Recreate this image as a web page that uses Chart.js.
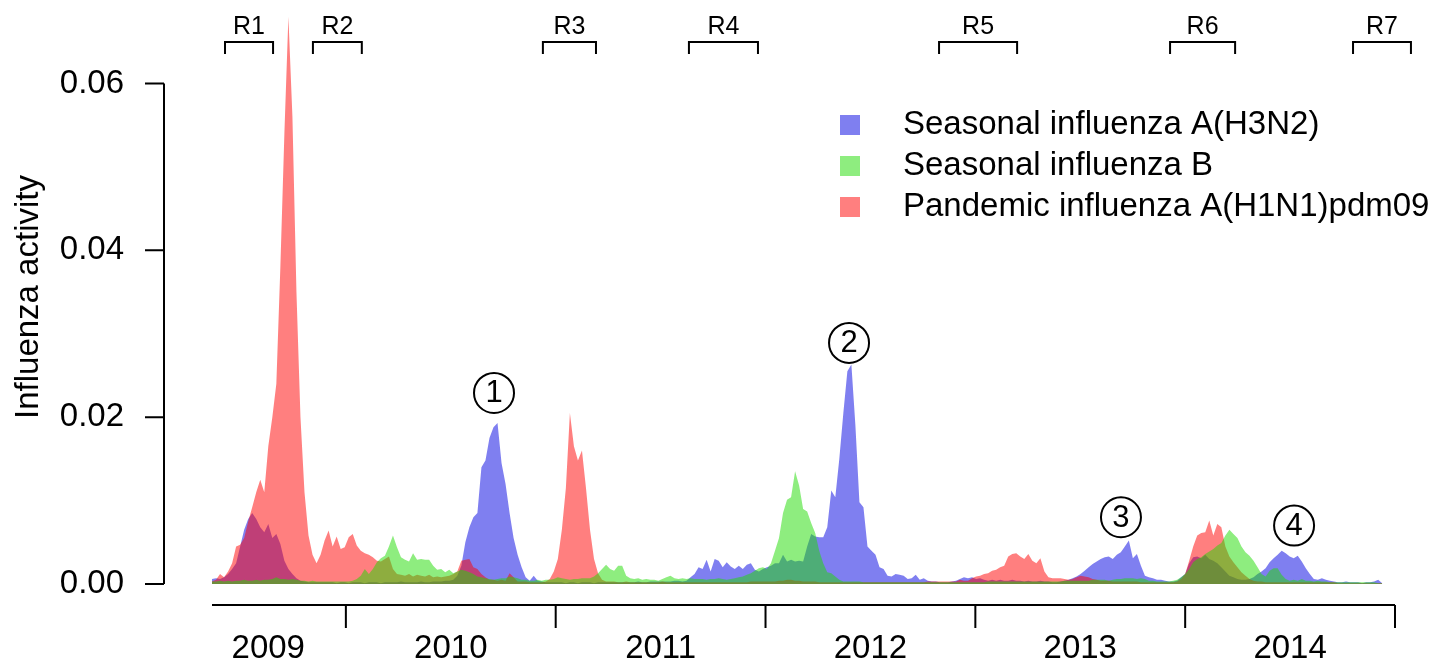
<!DOCTYPE html>
<html>
<head>
<meta charset="utf-8">
<script src="https://cdn.jsdelivr.net/npm/chart.js@4/dist/chart.umd.min.js"></script>
<style>
  html, body { margin: 0; padding: 0; background: #fff; }
  #wrap { width: 1451px; height: 662px; }
</style>
</head>
<body>
<div id="wrap"><canvas id="fluChart" width="1451" height="662"></canvas></div>
<script>
// Weekly series, first week in mid-May 2009 (decimal years on the x axis)
const firstWeek = 2009.362;
const weekStep = 7 / 365.25;

const h3n2 = [
  0.0006, 0.0007, 0.0006, 0.0008, 0.0012, 0.0018, 0.0025, 0.0045, 0.0065, 0.0078,
  0.0085, 0.0078, 0.0068, 0.0062, 0.0072, 0.0055, 0.006, 0.0048, 0.0028, 0.0018,
  0.0012, 0.0007, 0.0004, 0.0003, 0.0002, 0.0002, 0.0002, 0.0002, 0.0002, 0.0002,
  0.0002, 0.0001, 0.0002, 0.0002, 0.0001, 0.0002, 0.0002, 0.0002, 0.0001, 0.0002,
  0.0002, 0.0002, 0.0001, 0.0002, 0.0002, 0.0002, 0.0002, 0.0003, 0.0002, 0.0002,
  0.0002, 0.0002, 0.0003, 0.0002, 0.0002, 0.0003, 0.0003, 0.0003, 0.0004, 0.0004,
  0.0005, 0.001, 0.0022, 0.005, 0.0068, 0.008, 0.0085, 0.014, 0.0148, 0.0175,
  0.0188, 0.0193, 0.0145, 0.012, 0.0085, 0.0055, 0.0035, 0.002, 0.0008, 0.0004,
  0.001, 0.0004, 0.0003, 0.0002, 0.0002, 0.0002, 0.0002, 0.0002, 0.0001, 0.0002,
  0.0002, 0.0001, 0.0002, 0.0002, 0.0002, 0.0001, 0.0002, 0.0002, 0.0002, 0.0002,
  0.0002, 0.0002, 0.0002, 0.0002, 0.0002, 0.0002, 0.0003, 0.0002, 0.0002, 0.0003,
  0.0003, 0.0003, 0.0003, 0.0003, 0.0003, 0.0004, 0.0004, 0.0003, 0.0004, 0.0008,
  0.0012, 0.002, 0.0018, 0.0029, 0.0015, 0.003, 0.0028, 0.002, 0.0026, 0.0021,
  0.0018, 0.0022, 0.0018, 0.0023, 0.0025, 0.0017, 0.0015, 0.0018, 0.002, 0.0022,
  0.0025, 0.0025, 0.0035, 0.0027, 0.0029, 0.0027, 0.0028, 0.0027, 0.0045, 0.006,
  0.0057, 0.0056, 0.0056, 0.0068, 0.0112, 0.0104, 0.015, 0.0205, 0.0255, 0.0263,
  0.019, 0.0098, 0.0092, 0.0045, 0.004, 0.0035, 0.002, 0.0018, 0.001, 0.0009,
  0.0012, 0.0011, 0.001, 0.0006, 0.0007, 0.0011, 0.0005, 0.0007, 0.0004, 0.0003,
  0.0003, 0.0002, 0.0002, 0.0002, 0.0003, 0.0004, 0.0006, 0.0008, 0.0007, 0.0008,
  0.0006, 0.0007, 0.0005, 0.0004, 0.0005, 0.0004, 0.0005, 0.0004, 0.0004, 0.0005,
  0.0004, 0.0004, 0.0003, 0.0004, 0.0003, 0.0003, 0.0004, 0.0003, 0.0003, 0.0002,
  0.0002, 0.0003, 0.0004, 0.0005, 0.0007, 0.0009, 0.0012, 0.0016, 0.002, 0.0024,
  0.0027, 0.003, 0.0032, 0.0033, 0.003, 0.0035, 0.0038, 0.0045, 0.0052, 0.0031,
  0.0036, 0.0022, 0.001, 0.0008, 0.0007, 0.0005, 0.0005, 0.0004, 0.0003, 0.0003,
  0.0004, 0.0008, 0.0012, 0.0025, 0.0032, 0.0033, 0.0031, 0.0035, 0.003, 0.0028,
  0.0025, 0.002, 0.0015, 0.001, 0.0008, 0.0006, 0.0005, 0.0005, 0.0006, 0.0008,
  0.0012, 0.0015, 0.0019, 0.0026, 0.0031, 0.0035, 0.004, 0.0037, 0.0033, 0.0031,
  0.0034, 0.0027, 0.0019, 0.0012, 0.0006, 0.0005, 0.0007, 0.0005, 0.0004, 0.0003,
  0.0002, 0.0002, 0.0003, 0.0002, 0.0002, 0.0002, 0.0001, 0.0002, 0.0002, 0.0003,
  0.0005, 0.0001
];

const fluB = [
  0.0003, 0.0003, 0.0004, 0.0003, 0.0004, 0.0003, 0.0004, 0.0004, 0.0005, 0.0004,
  0.0004, 0.0005, 0.0004, 0.0005, 0.0005, 0.0006, 0.0008, 0.0006, 0.0006, 0.0005,
  0.0006, 0.0005, 0.0004, 0.0004, 0.0003, 0.0004, 0.0003, 0.0003, 0.0003, 0.0003,
  0.0003, 0.0003, 0.0003, 0.0003, 0.0003, 0.0004, 0.0006, 0.001, 0.0018, 0.0012,
  0.0018, 0.0026, 0.0031, 0.0034, 0.0045, 0.0058, 0.0044, 0.0032, 0.0029, 0.0027,
  0.0037, 0.0029, 0.003, 0.0029, 0.0029, 0.0022, 0.0017, 0.0018, 0.0014, 0.0017,
  0.0013, 0.0015, 0.0017, 0.0016, 0.0014, 0.0012, 0.0009, 0.0008, 0.0007, 0.0006,
  0.0005, 0.0006, 0.0007, 0.0007, 0.0009, 0.0008, 0.0007, 0.0005, 0.0005, 0.0004,
  0.0004, 0.0005, 0.0004, 0.0005, 0.0005, 0.0006, 0.0008, 0.0007, 0.0006, 0.0005,
  0.0006, 0.0006, 0.0007, 0.0007, 0.0007, 0.0009, 0.0013, 0.0018, 0.0023, 0.0018,
  0.0016, 0.0022, 0.0022, 0.001, 0.0007, 0.0006, 0.0007, 0.0005, 0.0006, 0.0005,
  0.0005, 0.0004, 0.0006, 0.0008, 0.001, 0.0007, 0.0006, 0.0007, 0.0006, 0.0007,
  0.0006, 0.0006, 0.0006, 0.0005, 0.0006, 0.0006, 0.0007, 0.0006, 0.0005, 0.0006,
  0.0007, 0.0008, 0.0009, 0.0011, 0.0013, 0.0016, 0.0019, 0.002, 0.0018, 0.0025,
  0.004, 0.0055, 0.0085, 0.0101, 0.0104, 0.0135, 0.0118, 0.009, 0.0087, 0.0073,
  0.0061, 0.004, 0.0025, 0.0014, 0.0013, 0.0009, 0.0005, 0.0003, 0.0003, 0.0003,
  0.0003, 0.0003, 0.0002, 0.0002, 0.0002, 0.0002, 0.0002, 0.0002, 0.0002, 0.0002,
  0.0002, 0.0002, 0.0002, 0.0002, 0.0002, 0.0002, 0.0002, 0.0002, 0.0002, 0.0002,
  0.0002, 0.0002, 0.0002, 0.0002, 0.0002, 0.0002, 0.0002, 0.0002, 0.0002, 0.0002,
  0.0002, 0.0002, 0.0002, 0.0003, 0.0003, 0.0003, 0.0003, 0.0003, 0.0003, 0.0003,
  0.0003, 0.0003, 0.0003, 0.0003, 0.0003, 0.0003, 0.0003, 0.0003, 0.0003, 0.0003,
  0.0003, 0.0003, 0.0004, 0.0004, 0.0004, 0.0004, 0.0004, 0.0004, 0.0004, 0.0005,
  0.0005, 0.0005, 0.0005, 0.0004, 0.0005, 0.0006, 0.0006, 0.0007, 0.0007, 0.0007,
  0.0006, 0.0007, 0.0006, 0.0004, 0.0004, 0.0003, 0.0003, 0.0003, 0.0003, 0.0004,
  0.0005, 0.0008, 0.0012, 0.0018, 0.0026, 0.003, 0.0032, 0.0036, 0.0039, 0.0042,
  0.0046, 0.0049, 0.0058, 0.0065, 0.006, 0.0055, 0.0045, 0.0038, 0.0034, 0.0028,
  0.002, 0.0012, 0.0009, 0.0016, 0.0019, 0.0019, 0.0011, 0.0006, 0.0004, 0.0005,
  0.0004, 0.0006, 0.0004, 0.0004, 0.0003, 0.0004, 0.0003, 0.0003, 0.0002, 0.0002,
  0.0002, 0.0002, 0.0002, 0.0002, 0.0002, 0.0002, 0.0002, 0.0002, 0.0002, 0.0002,
  0.0001, 0.0001
];

const h1n1 = [
  0.0003, 0.0005, 0.0012, 0.0008, 0.0015, 0.0025, 0.0045, 0.0047, 0.0055, 0.0075,
  0.0092, 0.011, 0.0125, 0.011, 0.0165, 0.02, 0.024, 0.038, 0.054, 0.068,
  0.056, 0.035, 0.02, 0.011, 0.0058, 0.0035, 0.0025, 0.0035, 0.0052, 0.0064,
  0.0045, 0.0057, 0.0042, 0.0044, 0.0056, 0.006, 0.0046, 0.004, 0.0037, 0.0035,
  0.0032, 0.0028, 0.0027, 0.003, 0.0033, 0.0018, 0.0012, 0.0011, 0.001, 0.0012,
  0.0009, 0.0011, 0.001, 0.0009, 0.0011, 0.0008, 0.0009, 0.0008, 0.0009, 0.001,
  0.0012, 0.0015, 0.0028, 0.0029, 0.003, 0.002, 0.0018, 0.0012, 0.0008, 0.0005,
  0.0005, 0.0004, 0.0005, 0.0004, 0.0013, 0.0008, 0.0003, 0.0003, 0.0003, 0.0002,
  0.0002, 0.0002, 0.0002, 0.0003, 0.0006, 0.0015, 0.003, 0.0065, 0.0115, 0.0205,
  0.0165, 0.0148, 0.016, 0.0115, 0.0065, 0.003, 0.0013, 0.0005, 0.0003, 0.0003,
  0.0003, 0.0002, 0.0002, 0.0003, 0.0002, 0.0002, 0.0002, 0.0002, 0.0002, 0.0002,
  0.0002, 0.0002, 0.0003, 0.0002, 0.0002, 0.0002, 0.0002, 0.0002, 0.0002, 0.0002,
  0.0002, 0.0002, 0.0002, 0.0002, 0.0002, 0.0002, 0.0002, 0.0002, 0.0002, 0.0002,
  0.0002, 0.0002, 0.0002, 0.0002, 0.0003, 0.0003, 0.0003, 0.0003, 0.0003, 0.0003,
  0.0003, 0.0004, 0.0004, 0.0005, 0.0005, 0.0004, 0.0004, 0.0003, 0.0003, 0.0003,
  0.0003, 0.0002, 0.0002, 0.0002, 0.0002, 0.0002, 0.0002, 0.0002, 0.0002, 0.0002,
  0.0002, 0.0002, 0.0002, 0.0002, 0.0002, 0.0002, 0.0002, 0.0002, 0.0002, 0.0002,
  0.0002, 0.0002, 0.0002, 0.0002, 0.0002, 0.0002, 0.0002, 0.0002, 0.0003, 0.0003,
  0.0003, 0.0003, 0.0003, 0.0003, 0.0003, 0.0003, 0.0005, 0.0004, 0.0004, 0.0007,
  0.0009, 0.001, 0.0012, 0.0013, 0.0016, 0.0017, 0.002, 0.0022, 0.0033, 0.0036,
  0.0037, 0.0033, 0.003, 0.0036, 0.0028, 0.0025, 0.0031, 0.0015, 0.0008, 0.0007,
  0.0007, 0.0007, 0.0006, 0.0005, 0.0006, 0.0008, 0.001, 0.0009, 0.0008, 0.0006,
  0.0005, 0.0004, 0.0004, 0.0004, 0.0003, 0.0003, 0.0003, 0.0003, 0.0003, 0.0003,
  0.0003, 0.0002, 0.0002, 0.0002, 0.0002, 0.0002, 0.0002, 0.0002, 0.0002, 0.0002,
  0.0003, 0.0006, 0.0012, 0.0028, 0.0045, 0.0058, 0.0061, 0.0062, 0.0076, 0.0058,
  0.0072, 0.0068, 0.0045, 0.0033, 0.0026, 0.002, 0.0014, 0.001, 0.0006, 0.0004,
  0.0003, 0.0003, 0.0002, 0.0002, 0.0002, 0.0002, 0.0002, 0.0002, 0.0002, 0.0002,
  0.0002, 0.0002, 0.0002, 0.0002, 0.0002, 0.0002, 0.0002, 0.0002, 0.0002, 0.0002,
  0.0001, 0.0001, 0.0001, 0.0001, 0.0001, 0.0001, 0.0001, 0.0001, 0.0001, 0.0001,
  0.0001, 0.0001
];

const seriesNames = ['Seasonal influenza A(H3N2)', 'Seasonal influenza B', 'Pandemic influenza A(H1N1)pdm09'];
const seriesColors = ['rgba(0, 0, 225, 0.5)', 'rgba(30, 220, 0, 0.5)', 'rgba(255, 0, 0, 0.5)'];

const yTicks = [0, 0.02, 0.04, 0.06];
const yTickLabels = ['0.00', '0.02', '0.04', '0.06'];
const yearTicks = [2010, 2011, 2012, 2013, 2014, 2015];
const yearLabels = ['2009', '2010', '2011', '2012', '2013', '2014'];
const yearLabelAt = [2009.63, 2010.5, 2011.5, 2012.5, 2013.5, 2014.5];

// Study rounds shown as brackets above the plot
const roundNames = ['R1', 'R2', 'R3', 'R4', 'R5', 'R6', 'R7'];
const roundStart = [2009.424, 2009.843, 2010.939, 2011.635, 2012.827, 2013.928, 2014.800];
const roundEnd = [2009.653, 2010.076, 2011.192, 2011.964, 2013.199, 2014.238, 2015.076];

// Circled epidemic markers
const markerText = ['1', '2', '3', '4'];
const markerX = [2010.706, 2012.398, 2013.694, 2014.519];
const markerY = [0.0229, 0.0289, 0.0080, 0.0070];

function toPoints(values) {
    return values.map((v, i) => ({ x: firstWeek + i * weekStep, y: v }));
}

const FONT = '"Liberation Sans", Arial, Helvetica, sans-serif';

const decorations = {
    id: 'decorations',
    afterDraw(chart) {
        const { ctx, scales: { x, y } } = chart;
        ctx.save();
        ctx.strokeStyle = '#000';
        ctx.fillStyle = '#000';
        ctx.lineWidth = 2;

        // y axis
        const axisX = 164;
        ctx.beginPath();
        ctx.moveTo(axisX, y.getPixelForValue(yTicks[0]));
        ctx.lineTo(axisX, y.getPixelForValue(yTicks[yTicks.length - 1]));
        yTicks.forEach(v => {
            const py = y.getPixelForValue(v);
            ctx.moveTo(axisX - 19, py);
            ctx.lineTo(axisX, py);
        });
        ctx.stroke();
        ctx.font = '33px ' + FONT;
        ctx.textAlign = 'right';
        ctx.textBaseline = 'middle';
        yTicks.forEach((v, k) => ctx.fillText(yTickLabels[k], 124, y.getPixelForValue(v)));

        // y title
        ctx.save();
        ctx.translate(29, 297);
        ctx.rotate(-Math.PI / 2);
        ctx.textAlign = 'center';
        ctx.fillText('Influenza activity', 0, 0);
        ctx.restore();

        // x axis
        const axisY = 605;
        ctx.beginPath();
        ctx.moveTo(x.getPixelForValue(firstWeek), axisY);
        ctx.lineTo(x.getPixelForValue(yearTicks[yearTicks.length - 1]), axisY);
        yearTicks.forEach(t => {
            const px = x.getPixelForValue(t);
            ctx.moveTo(px, axisY);
            ctx.lineTo(px, axisY + 23);
        });
        ctx.stroke();
        ctx.textAlign = 'center';
        yearLabels.forEach((lab, k) => ctx.fillText(lab, x.getPixelForValue(yearLabelAt[k]), 649));

        // round brackets
        ctx.font = '25px ' + FONT;
        roundNames.forEach((name, k) => {
            const a = x.getPixelForValue(roundStart[k]);
            const b = x.getPixelForValue(roundEnd[k]);
            ctx.beginPath();
            ctx.moveTo(a, 54);
            ctx.lineTo(a, 42);
            ctx.lineTo(b, 42);
            ctx.lineTo(b, 54);
            ctx.stroke();
            ctx.fillText(name, (a + b) / 2, 27);
        });

        // circled numbers
        ctx.font = '31px ' + FONT;
        markerText.forEach((t, k) => {
            const cx = x.getPixelForValue(markerX[k]);
            const cy = y.getPixelForValue(markerY[k]);
            ctx.beginPath();
            ctx.arc(cx, cy, 20, 0, Math.PI * 2);
            ctx.stroke();
            ctx.fillText(t, cx, cy + 1);
        });

        // legend
        ctx.font = '33px ' + FONT;
        ctx.textAlign = 'left';
        const rows = [125, 166, 207];
        seriesNames.forEach((name, k) => {
            ctx.fillStyle = seriesColors[k];
            ctx.fillRect(840, rows[k] - 10, 20, 20);
            ctx.fillStyle = '#000';
            ctx.fillText(name, 903, rows[k]);
        });
        ctx.restore();
    }
};

const ctx = document.getElementById('fluChart').getContext('2d');
const chart = new Chart(ctx, {
    type: 'line',
    data: {
        datasets: [
            { label: seriesNames[0], data: toPoints(h3n2), backgroundColor: seriesColors[0], order: 3 },
            { label: seriesNames[1], data: toPoints(fluB), backgroundColor: seriesColors[1], order: 1 },
            { label: seriesNames[2], data: toPoints(h1n1), backgroundColor: seriesColors[2], order: 2 }
        ].map(d => Object.assign(d, {
            fill: 'origin',
            borderColor: 'rgba(0,0,0,0)',
            borderWidth: 0,
            pointRadius: 0,
            tension: 0
        }))
    },
    options: {
        responsive: false,
        animation: false,
        devicePixelRatio: 1,
        layout: { padding: { left: 212, right: 56, top: 0, bottom: 78 } },
        scales: {
            x: { type: 'linear', min: firstWeek, max: 2015, display: false },
            y: { min: 0, max: 0.07, display: false }
        },
        plugins: {
            legend: { display: false },
            tooltip: { enabled: false }
        }
    },
    plugins: [decorations]
});
</script>
</body>
</html>
